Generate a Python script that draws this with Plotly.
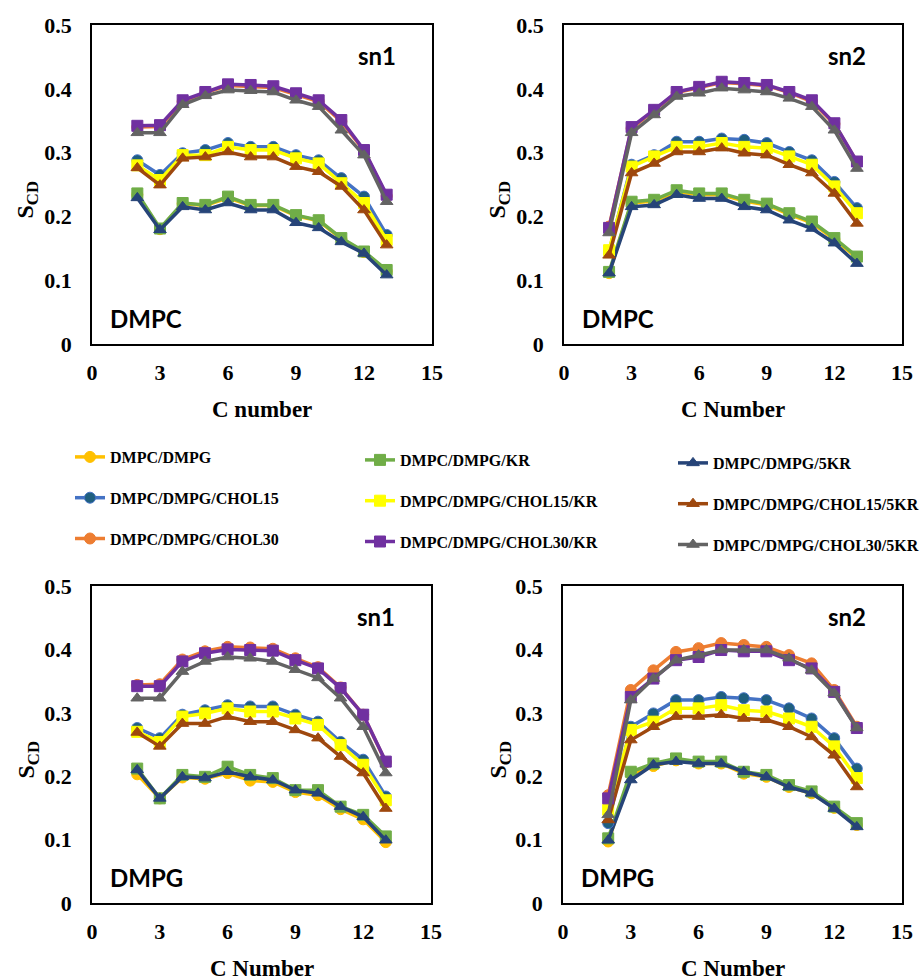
import plotly.graph_objects as go

carbons = [2, 3, 4, 5, 6, 7, 8, 9, 10, 11, 12, 13]

series_names = ["DMPC/DMPG", "DMPC/DMPG/KR", "DMPC/DMPG/5KR",
                "DMPC/DMPG/CHOL15", "DMPC/DMPG/CHOL15/KR", "DMPC/DMPG/CHOL15/5KR",
                "DMPC/DMPG/CHOL30", "DMPC/DMPG/CHOL30/KR", "DMPC/DMPG/CHOL30/5KR"]

# ---- DMPC sn1 ----
dmpc_sn1 = {
    "DMPC/DMPG":            [0.234, 0.180, 0.220, 0.217, 0.229, 0.217, 0.217, 0.201, 0.193, 0.165, 0.144, 0.114],
    "DMPC/DMPG/KR":         [0.236, 0.181, 0.221, 0.218, 0.231, 0.218, 0.218, 0.202, 0.194, 0.166, 0.145, 0.116],
    "DMPC/DMPG/5KR":        [0.229, 0.179, 0.215, 0.210, 0.221, 0.210, 0.210, 0.190, 0.182, 0.160, 0.142, 0.108],
    "DMPC/DMPG/CHOL15":     [0.288, 0.265, 0.299, 0.304, 0.315, 0.309, 0.309, 0.296, 0.288, 0.260, 0.231, 0.171],
    "DMPC/DMPG/CHOL15/KR":  [0.280, 0.257, 0.296, 0.296, 0.309, 0.304, 0.304, 0.291, 0.283, 0.252, 0.221, 0.163],
    "DMPC/DMPG/CHOL15/5KR": [0.276, 0.249, 0.291, 0.293, 0.301, 0.293, 0.293, 0.278, 0.270, 0.247, 0.210, 0.155],
    "DMPC/DMPG/CHOL30":     [0.340, 0.341, 0.380, 0.394, 0.405, 0.404, 0.402, 0.391, 0.380, 0.349, 0.303, 0.232],
    "DMPC/DMPG/CHOL30/KR":  [0.342, 0.343, 0.382, 0.395, 0.407, 0.406, 0.404, 0.393, 0.382, 0.351, 0.304, 0.234],
    "DMPC/DMPG/CHOL30/5KR": [0.331, 0.331, 0.375, 0.389, 0.398, 0.397, 0.395, 0.382, 0.372, 0.335, 0.296, 0.223],
}

# ---- DMPC sn2 ----
dmpc_sn2 = {
    "DMPC/DMPG":            [0.111, 0.221, 0.224, 0.239, 0.234, 0.234, 0.224, 0.218, 0.203, 0.190, 0.164, 0.135],
    "DMPC/DMPG/KR":         [0.113, 0.223, 0.226, 0.241, 0.236, 0.236, 0.226, 0.220, 0.205, 0.192, 0.166, 0.137],
    "DMPC/DMPG/5KR":        [0.111, 0.215, 0.218, 0.234, 0.228, 0.228, 0.215, 0.210, 0.194, 0.181, 0.158, 0.126],
    "DMPC/DMPG/CHOL15":     [0.145, 0.281, 0.296, 0.317, 0.317, 0.322, 0.320, 0.315, 0.301, 0.288, 0.254, 0.213],
    "DMPC/DMPG/CHOL15/KR":  [0.147, 0.278, 0.294, 0.309, 0.309, 0.315, 0.309, 0.307, 0.294, 0.281, 0.247, 0.205],
    "DMPC/DMPG/CHOL15/5KR": [0.139, 0.268, 0.283, 0.301, 0.301, 0.307, 0.299, 0.296, 0.281, 0.268, 0.236, 0.189],
    "DMPC/DMPG/CHOL30":     [0.184, 0.338, 0.366, 0.394, 0.402, 0.410, 0.408, 0.405, 0.394, 0.380, 0.345, 0.285],
    "DMPC/DMPG/CHOL30/KR":  [0.182, 0.340, 0.367, 0.395, 0.403, 0.411, 0.409, 0.406, 0.395, 0.382, 0.346, 0.286],
    "DMPC/DMPG/CHOL30/5KR": [0.174, 0.331, 0.359, 0.388, 0.393, 0.401, 0.398, 0.395, 0.385, 0.372, 0.335, 0.275],
}

# ---- DMPG sn1 ----
dmpg_sn1 = {
    "DMPC/DMPG":            [0.203, 0.165, 0.198, 0.196, 0.205, 0.193, 0.191, 0.175, 0.170, 0.148, 0.132, 0.096],
    "DMPC/DMPG/KR":         [0.212, 0.165, 0.202, 0.199, 0.215, 0.202, 0.197, 0.178, 0.178, 0.152, 0.139, 0.105],
    "DMPC/DMPG/5KR":        [0.210, 0.165, 0.199, 0.197, 0.207, 0.199, 0.194, 0.178, 0.173, 0.152, 0.136, 0.099],
    "DMPC/DMPG/CHOL15":     [0.276, 0.260, 0.297, 0.304, 0.312, 0.310, 0.310, 0.297, 0.286, 0.254, 0.226, 0.168],
    "DMPC/DMPG/CHOL15/KR":  [0.270, 0.254, 0.294, 0.299, 0.307, 0.302, 0.302, 0.291, 0.281, 0.249, 0.218, 0.162],
    "DMPC/DMPG/CHOL15/5KR": [0.269, 0.247, 0.283, 0.283, 0.294, 0.286, 0.286, 0.273, 0.260, 0.231, 0.205, 0.149],
    "DMPC/DMPG/CHOL30":     [0.344, 0.345, 0.384, 0.397, 0.404, 0.403, 0.401, 0.386, 0.372, 0.340, 0.297, 0.222],
    "DMPC/DMPG/CHOL30/KR":  [0.342, 0.342, 0.381, 0.394, 0.400, 0.399, 0.398, 0.383, 0.370, 0.339, 0.297, 0.223],
    "DMPC/DMPG/CHOL30/5KR": [0.323, 0.323, 0.365, 0.381, 0.388, 0.386, 0.381, 0.368, 0.355, 0.323, 0.278, 0.205],
}

# ---- DMPG sn2 ----
dmpg_sn2 = {
    "DMPC/DMPG":            [0.097, 0.203, 0.216, 0.225, 0.220, 0.220, 0.204, 0.199, 0.183, 0.173, 0.150, 0.123],
    "DMPC/DMPG/KR":         [0.102, 0.207, 0.220, 0.228, 0.223, 0.223, 0.207, 0.202, 0.186, 0.176, 0.152, 0.126],
    "DMPC/DMPG/5KR":        [0.099, 0.194, 0.218, 0.223, 0.220, 0.220, 0.207, 0.199, 0.183, 0.173, 0.149, 0.120],
    "DMPC/DMPG/CHOL15":     [0.126, 0.278, 0.299, 0.320, 0.320, 0.325, 0.323, 0.320, 0.307, 0.291, 0.260, 0.212],
    "DMPC/DMPG/CHOL15/KR":  [0.147, 0.273, 0.286, 0.307, 0.307, 0.312, 0.304, 0.302, 0.291, 0.278, 0.247, 0.197],
    "DMPC/DMPG/CHOL15/5KR": [0.131, 0.257, 0.278, 0.294, 0.294, 0.297, 0.291, 0.289, 0.278, 0.262, 0.233, 0.183],
    "DMPC/DMPG/CHOL30":     [0.170, 0.336, 0.367, 0.396, 0.402, 0.410, 0.407, 0.404, 0.391, 0.378, 0.336, 0.278],
    "DMPC/DMPG/CHOL30/KR":  [0.165, 0.325, 0.354, 0.383, 0.388, 0.399, 0.397, 0.397, 0.383, 0.370, 0.333, 0.276],
    "DMPC/DMPG/CHOL30/5KR": [0.139, 0.320, 0.354, 0.383, 0.391, 0.399, 0.399, 0.399, 0.386, 0.367, 0.331, 0.276],
}

panels = [dmpc_sn1, dmpc_sn2, dmpg_sn1, dmpg_sn2]
chain_labels = ["sn1", "sn2", "sn1", "sn2"]
lipid_labels = ["DMPC", "DMPC", "DMPG", "DMPG"]
x_titles = ["C number", "C Number", "C Number", "C Number"]
y_title = "S<sub>CD</sub>"

x_tickvals = [0, 3, 6, 9, 12, 15]
y_tickvals = [0, 0.1, 0.2, 0.3, 0.4, 0.5]
y_ticktext = ["0", "0.1", "0.2", "0.3", "0.4", "0.5"]

styles = {
    "DMPC/DMPG":            dict(line="#FFC000", marker="#FFC000", symbol="circle"),
    "DMPC/DMPG/KR":         dict(line="#70AD47", marker="#70AD47", symbol="square"),
    "DMPC/DMPG/5KR":        dict(line="#264478", marker="#264478", symbol="triangle-up"),
    "DMPC/DMPG/CHOL15":     dict(line="#4472C4", marker="#1F5F7F", symbol="circle"),
    "DMPC/DMPG/CHOL15/KR":  dict(line="#FFFF00", marker="#FFFF00", symbol="square"),
    "DMPC/DMPG/CHOL15/5KR": dict(line="#9E480E", marker="#9E480E", symbol="triangle-up"),
    "DMPC/DMPG/CHOL30":     dict(line="#ED7D31", marker="#ED7D31", symbol="circle"),
    "DMPC/DMPG/CHOL30/KR":  dict(line="#7030A0", marker="#7030A0", symbol="square"),
    "DMPC/DMPG/CHOL30/5KR": dict(line="#636363", marker="#636363", symbol="triangle-up"),
}
legend_of = {
    "DMPC/DMPG": "legend", "DMPC/DMPG/CHOL15": "legend", "DMPC/DMPG/CHOL30": "legend",
    "DMPC/DMPG/KR": "legend2", "DMPC/DMPG/CHOL15/KR": "legend2", "DMPC/DMPG/CHOL30/KR": "legend2",
    "DMPC/DMPG/5KR": "legend3", "DMPC/DMPG/CHOL15/5KR": "legend3", "DMPC/DMPG/CHOL30/5KR": "legend3",
}

W, H = 922, 980
SERIF = "Liberation Serif, Times New Roman, serif"
SANS = "Lato, Carlito, Calibri, sans-serif"
# panel boxes in pixels: (left, right, top, bottom)
boxes = [(92, 432, 25, 344), (564, 902, 25, 344), (92, 431, 586, 903), (563, 902, 586, 903)]

fig = go.Figure()
for p, data in enumerate(panels):
    ax = "" if p == 0 else str(p + 1)
    for name in series_names:
        st = styles[name]
        fig.add_trace(go.Scatter(
            x=carbons, y=data[name], name=name, mode="lines+markers",
            xaxis="x" + ax, yaxis="y" + ax,
            line=dict(color=st["line"], width=3.5),
            marker=dict(color=st["marker"], symbol=st["symbol"], size=11,
                        line=dict(color=st["line"], width=1)),
            legend=legend_of[name], legendgroup=name, showlegend=(p == 0),
        ))

tickfont = dict(family=SERIF, size=22, color="black", weight="bold")
annotations = []


def ann(text, xpx, ypx, font, angle=0):
    return dict(text=text, x=xpx / W, y=1 - ypx / H, xref="paper", yref="paper",
                xanchor="center", yanchor="middle", showarrow=False, textangle=angle, font=font)


for p, (l, r, t, b) in enumerate(boxes):
    ax = "" if p == 0 else str(p + 1)
    xd = [l / W, r / W]
    yd = [1 - b / H, 1 - t / H]
    fig.layout["xaxis" + ax] = dict(
        domain=xd, range=[0, 15], tickvals=x_tickvals, showgrid=False, zeroline=False,
        showline=True, mirror=True, linecolor="black", linewidth=1.5, ticks="",
        tickfont=tickfont, ticklabelstandoff=8, anchor="y" + ax, fixedrange=True,
        automargin=False)
    fig.layout["yaxis" + ax] = dict(
        domain=yd, range=[0, 0.5], tickvals=y_tickvals, ticktext=y_ticktext,
        showgrid=False, zeroline=False, showline=True, mirror=True, linecolor="black",
        linewidth=1.5, ticks="", tickfont=tickfont, ticklabelstandoff=14,
        anchor="x" + ax, fixedrange=True, automargin=False)
    annotations.append(ann("<b>" + x_titles[p] + "</b>", (l + r) / 2, b + 65,
                           dict(family=SERIF, size=23, color="black")))
    annotations.append(ann("<b>" + y_title + "</b>", 27 if p % 2 == 0 else 499, (t + b) / 2 + 15,
                           dict(family=SERIF, size=24, color="black"), angle=-90))
    annotations.append(ann("<b>" + chain_labels[p] + "</b>", r - 55, t + 30,
                           dict(family=SANS, size=24, color="black")))
    annotations.append(ann("<b>" + lipid_labels[p] + "</b>", l + 54, b - 26,
                           dict(family=SANS, size=24, color="black")))

legfont = dict(family=SERIF, size=16, color="black", weight="bold")
leg_common = dict(orientation="v", xanchor="left", yanchor="top", font=legfont,
                  bgcolor="rgba(0,0,0,0)", tracegroupgap=17, itemclick=False, itemdoubleclick=False)
fig.update_layout(
    template="none",
    width=W, height=H, margin=dict(l=0, r=0, t=0, b=0, autoexpand=False),
    paper_bgcolor="white", plot_bgcolor="white",
    font=dict(family=SERIF, color="black"),
    legend=dict(x=70 / W, y=1 - 440 / H, **leg_common),
    legend2=dict(x=360 / W, y=1 - 443 / H, **leg_common),
    legend3=dict(x=673 / W, y=1 - 446 / H, **leg_common),
    annotations=annotations,
)
fig.write_html("out.html")
